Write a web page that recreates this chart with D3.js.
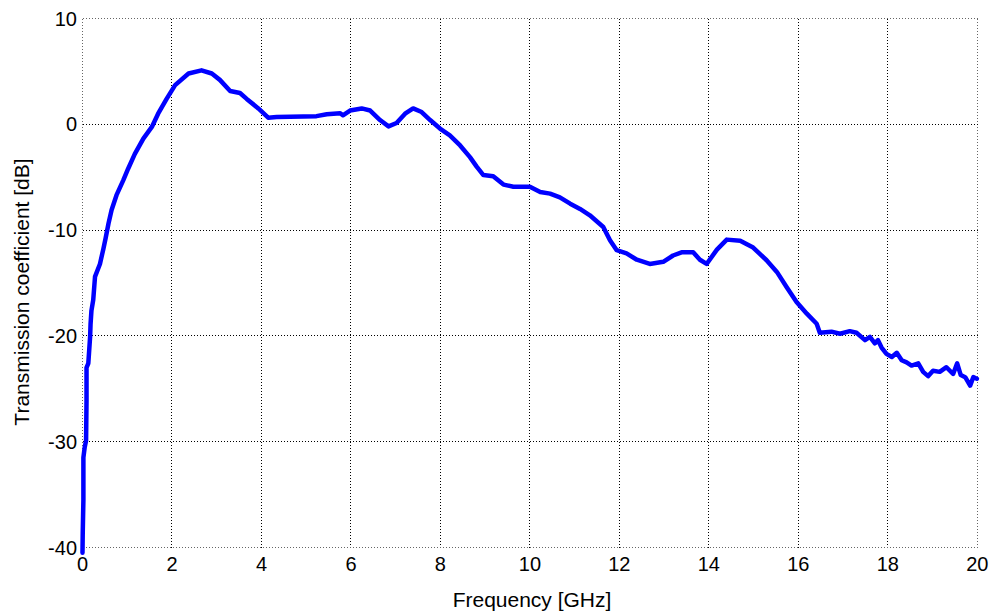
<!DOCTYPE html>
<html lang="en">
<head>
<meta charset="utf-8">
<title>Transmission coefficient</title>
<script src="https://cdn.jsdelivr.net/npm/d3@7/dist/d3.min.js"></script>
<style>
  body { margin: 0; background: #fff; }
  svg text { font-family: "Liberation Sans", Arial, sans-serif; fill: #000; }
</style>
</head>
<body>
<div id="chart"></div>
<script>
var freqGHz = [0.00, 0.005, 0.02, 0.02, 0.05, 0.08, 0.09, 0.09, 0.13, 0.17, 0.18, 0.20, 0.24, 0.28, 0.39,
  0.465, 0.52, 0.58, 0.65, 0.76, 0.91, 1.02, 1.17, 1.36, 1.55, 1.69, 1.88, 2.07, 2.37, 2.66, 2.89,
  3.07, 3.30, 3.52, 3.67, 3.93, 4.15, 4.34, 5.23, 5.46, 5.76, 5.82, 5.98, 6.24, 6.43, 6.65, 6.84,
  7.02, 7.21, 7.39, 7.58, 7.77, 7.99, 8.21, 8.44, 8.66, 8.81, 8.96, 9.18, 9.41, 9.63, 10.0, 10.23,
  10.45, 10.67, 10.9, 11.12, 11.34, 11.64, 11.79, 11.94, 12.16, 12.39, 12.68, 12.98, 13.2, 13.39,
  13.65, 13.8, 13.95, 14.18, 14.4, 14.7, 14.99, 15.29, 15.52, 15.74, 15.96, 16.19, 16.41, 16.48,
  16.74, 16.93, 17.15, 17.3, 17.49, 17.6, 17.71, 17.78, 17.86, 17.97, 18.09, 18.2, 18.31, 18.42,
  18.53, 18.68, 18.79, 18.9, 19.01, 19.16, 19.31, 19.46, 19.55, 19.63, 19.73, 19.84, 19.91, 19.99];
var transDB = [-40.5, -38.7, -35.5, -31.5, -30.5, -29.9, -26.1, -23.0, -22.6, -20.1, -18.9, -17.6, -16.6, -14.4, -13.2,
  -11.8, -10.7, -9.4, -8.1, -6.7, -5.3, -4.2, -2.8, -1.35, -0.25, 1.0, 2.4, 3.7, 4.8, 5.1, 4.8,
  4.2, 3.15, 2.96, 2.4, 1.5, 0.63, 0.7, 0.77, 0.95, 1.05, 0.85, 1.3, 1.5, 1.3, 0.4, -0.2,
  0.12, 1.0, 1.5, 1.16, 0.4, -0.4, -1.04, -2.0, -3.1, -4.0, -4.8, -4.9, -5.7, -5.9, -5.9, -6.4,
  -6.55, -6.9, -7.5, -8.0, -8.6, -9.7, -10.95, -11.9, -12.2, -12.8, -13.2, -13.0, -12.4, -12.1,
  -12.1, -12.8, -13.2, -11.85, -10.9, -11.0, -11.65, -12.85, -13.95, -15.4, -16.8, -17.9, -18.85, -19.7,
  -19.6, -19.8, -19.55, -19.7, -20.4, -20.1, -20.7, -20.4, -21.1, -21.7, -22.0, -21.6, -22.3, -22.5,
  -22.8, -22.6, -23.4, -23.8, -23.3, -23.4, -22.96, -23.6, -22.6, -23.7, -23.9, -24.7, -23.9, -24.05];

var xTicks = [0, 2, 4, 6, 8, 10, 12, 14, 16, 18, 20];
var yTicks = [-40, -30, -20, -10, 0, 10];

var w = 991, h = 612;
var padL = 82.5, padR = 977.3, padT = 18.5, padB = 547.5;

var svg = d3.select("#chart").append("svg")
  .attr("width", w)
  .attr("height", h);

var x = d3.scaleLinear().domain([0, 20]).range([padL, padR]);
var y = d3.scaleLinear().domain([-40, 10]).range([padB, padT]);

// snap grid lines to the pixel so the dots stay dark
function snap(v){ return Math.round(v - 0.5) + 0.5; }

// grid (edges included, they are dotted too)
svg.selectAll(".vgrid")
  .data(xTicks)
  .enter()
  .append("line")
  .attr("x1", function(d){ return snap(x(d)); })
  .attr("x2", function(d){ return snap(x(d)); })
  .attr("y1", snap(padT))
  .attr("y2", snap(padB))
  .attr("stroke", function(d){ return (d == 0 || d == 20) ? "#666" : "#000"; })
  .attr("stroke-width", 1)
  .attr("stroke-dasharray", "1,2")
  .attr("shape-rendering", "crispEdges");

svg.selectAll(".hgrid")
  .data(yTicks)
  .enter()
  .append("line")
  .attr("x1", snap(padL))
  .attr("x2", snap(padR))
  .attr("y1", function(d){ return snap(y(d)); })
  .attr("y2", function(d){ return snap(y(d)); })
  .attr("stroke", function(d){ return (d == -40 || d == 10) ? "#666" : "#000"; })
  .attr("stroke-width", 1)
  .attr("stroke-dasharray", "1,2")
  .attr("shape-rendering", "crispEdges");

// tick labels
svg.selectAll(".xlab")
  .data(xTicks)
  .enter()
  .append("text")
  .text(function(d){ return d; })
  .attr("x", function(d){ return x(d); })
  .attr("y", 571)
  .attr("text-anchor", "middle")
  .attr("font-size", "20px");

svg.selectAll(".ylab")
  .data(yTicks)
  .enter()
  .append("text")
  .text(function(d){ return d; })
  .attr("x", 77)
  .attr("y", function(d){ return y(d) + 7; })
  .attr("text-anchor", "end")
  .attr("font-size", "20px");

// axis titles
svg.append("text")
  .text("Frequency [GHz]")
  .attr("x", 532)
  .attr("y", 607)
  .attr("text-anchor", "middle")
  .attr("font-size", "21px");

svg.append("text")
  .text("Transmission coefficient [dB]")
  .attr("transform", "translate(29,292) rotate(-90)")
  .attr("text-anchor", "middle")
  .attr("font-size", "21px");

// the curve
var pts = freqGHz.map(function(f, i){ return [f, transDB[i]]; });
var line = d3.line()
  .x(function(d){ return x(d[0]); })
  .y(function(d){ return y(d[1]); });

svg.append("path")
  .datum(pts)
  .attr("d", line)
  .attr("fill", "none")
  .attr("stroke", "#0000ff")
  .attr("stroke-width", 4.5)
  .attr("stroke-linejoin", "round")
  .attr("stroke-linecap", "round");
</script>
</body>
</html>
